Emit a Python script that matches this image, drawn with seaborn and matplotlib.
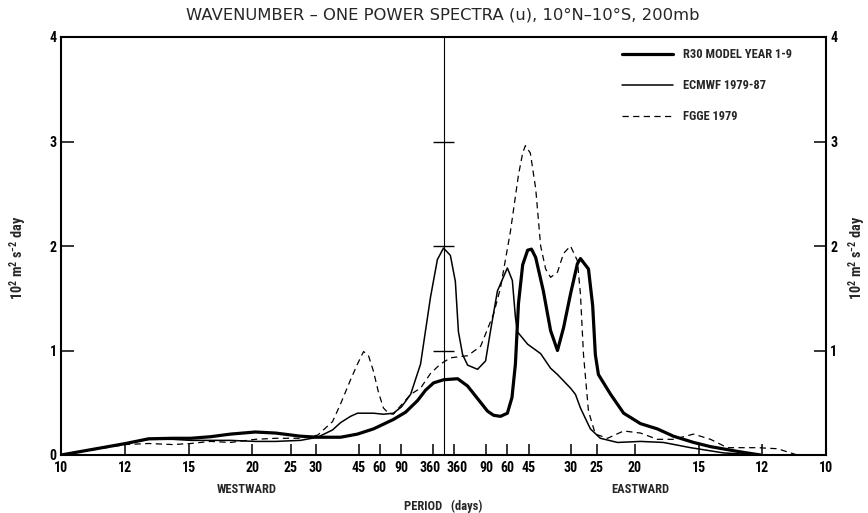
import matplotlib
matplotlib.use("Agg")
import matplotlib.pyplot as plt
import matplotlib.transforms as mtransforms
from matplotlib import font_manager
import seaborn as sns

# Period (days) labels of the frequency axis, mirrored about zero frequency
periods = [10, 12, 15, 20, 25, 30, 45, 60, 90, 360]
power_ticks = [0, 1, 2, 3, 4]

# Frequency in cycles/day (negative = westward), power in 10^2 m^2 s^-2 day
r30_freq = [-0.1, -0.0831, -0.0771, -0.0708, -0.0661, -0.0609, -0.0557, -0.0492,
            -0.0439, -0.0374, -0.0329, -0.0269, -0.0225, -0.0183, -0.0131, -0.0099,
            -0.0068, -0.0047, -0.0026, 0.0, 0.0037, 0.0063, 0.0089, 0.0115, 0.0131,
            0.0149, 0.0167, 0.0179, 0.0188, 0.0196, 0.0207, 0.0220, 0.0230, 0.0241,
            0.0261, 0.0280, 0.0298, 0.0314, 0.0332, 0.0350, 0.0358, 0.0379, 0.0390,
            0.0397, 0.0405, 0.0437, 0.0471, 0.0515, 0.0559, 0.0601, 0.0654, 0.0698,
            0.0776, 0.0829]
r30_power = [0.0, 0.11, 0.155, 0.16, 0.16, 0.175, 0.20, 0.22, 0.21, 0.18, 0.17,
             0.17, 0.20, 0.25, 0.34, 0.41, 0.52, 0.62, 0.69, 0.72, 0.73, 0.66, 0.54,
             0.42, 0.38, 0.37, 0.40, 0.55, 0.87, 1.45, 1.82, 1.96, 1.97, 1.89, 1.57,
             1.19, 1.00, 1.22, 1.54, 1.83, 1.88, 1.78, 1.43, 0.96, 0.77, 0.58, 0.40,
             0.30, 0.25, 0.18, 0.12, 0.08, 0.03, 0.0]

ecmwf_freq = [-0.1, -0.0831, -0.0771, -0.0708, -0.0661, -0.0609, -0.0557, -0.0492,
              -0.0439, -0.0374, -0.0329, -0.0290, -0.0269, -0.0243, -0.0225, -0.0183,
              -0.0157, -0.0131, -0.0110, -0.0086, -0.0060, -0.0034, -0.0016, 0.0,
              0.0018, 0.0031, 0.0039, 0.0050, 0.0063, 0.0089, 0.0110, 0.0123, 0.0141,
              0.0167, 0.0180, 0.0188, 0.0193, 0.0220, 0.0254, 0.0280, 0.0298, 0.0332,
              0.0345, 0.0358, 0.0384, 0.0410, 0.0455, 0.0515, 0.0575, 0.0646, 0.0732,
              0.0821]
ecmwf_power = [0.0, 0.11, 0.15, 0.15, 0.14, 0.14, 0.14, 0.13, 0.13, 0.14, 0.17,
               0.24, 0.31, 0.37, 0.40, 0.40, 0.39, 0.40, 0.46, 0.58, 0.87, 1.51, 1.87,
               1.98, 1.91, 1.66, 1.18, 0.96, 0.86, 0.82, 0.90, 1.19, 1.57, 1.79, 1.67,
               1.32, 1.18, 1.06, 0.97, 0.83, 0.77, 0.64, 0.58, 0.45, 0.25, 0.16, 0.12,
               0.13, 0.12, 0.07, 0.02, 0.0]

fgge_freq = [-0.1, -0.0831, -0.0771, -0.0708, -0.0661, -0.0609, -0.0557, -0.0492,
             -0.0439, -0.0374, -0.0329, -0.0290, -0.0269, -0.0243, -0.0225, -0.0209,
             -0.0196, -0.0183, -0.0170, -0.0157, -0.0144, -0.0131, -0.0110, -0.0086,
             -0.0060, -0.0034, -0.0008, 0.0018, 0.0063, 0.0097, 0.0131, 0.0149, 0.0175,
             0.0196, 0.0207, 0.0214, 0.0227, 0.0241, 0.0254, 0.0267, 0.0280, 0.0298,
             0.0314, 0.0332, 0.0350, 0.0358, 0.0366, 0.0379, 0.0397, 0.0429, 0.0471,
             0.0515, 0.0559, 0.0601, 0.0654, 0.0698, 0.0742, 0.0821, 0.0873, 0.0925,
             0.1]
fgge_power = [0.0, 0.10, 0.11, 0.10, 0.11, 0.13, 0.12, 0.15, 0.16, 0.16, 0.19, 0.32,
              0.49, 0.72, 0.87, 0.99, 0.95, 0.80, 0.60, 0.45, 0.40, 0.39, 0.48, 0.58,
              0.64, 0.78, 0.87, 0.93, 0.95, 1.04, 1.35, 1.60, 2.14, 2.68, 2.89, 2.96,
              2.89, 2.55, 2.00, 1.78, 1.70, 1.75, 1.93, 2.00, 1.86, 1.54, 0.96, 0.42,
              0.20, 0.16, 0.23, 0.21, 0.15, 0.15, 0.20, 0.15, 0.07, 0.07, 0.06, 0.0,
              0.0]

sns.set_style("white")
plt.rcParams["font.family"] = ["DejaVu Sans"]

# narrow bold face for the axis annotations, first one that is installed
installed = {f.name for f in font_manager.fontManager.ttflist}
COND = next((n for n in ["Liberation Sans Narrow", "DejaVu Sans Condensed",
                         "Roboto Condensed", "Open Sans Condensed"] if n in installed),
            "DejaVu Sans")
scale = 1.0 if COND != "DejaVu Sans" else 0.85
tick_fs = 10 * scale
small = 9 * scale
plt.rcParams["mathtext.fontset"] = "custom"
plt.rcParams["mathtext.rm"] = COND + ":bold"
plt.rcParams["mathtext.default"] = "rm"

W, H = 868, 513
fig = plt.figure(figsize=(W / 100, H / 100), dpi=100)
ax = fig.add_axes([61 / W, 1 - 455 / H, 765 / W, 418 / H])

sns.lineplot(x=r30_freq, y=r30_power, ax=ax, color="black", linewidth=2.3,
             sort=False, label="R30 MODEL YEAR 1-9")
sns.lineplot(x=ecmwf_freq, y=ecmwf_power, ax=ax, color="black", linewidth=1.1,
             sort=False, label="ECMWF 1979-87")
sns.lineplot(x=fgge_freq, y=fgge_power, ax=ax, color="black", linewidth=0.9,
             linestyle=(0, (5, 3.5)), sort=False, label="FGGE 1979")

ax.set_xlim(-0.1, 0.1)
ax.set_ylim(0, 4)

# zero-frequency divider with cross marks at each power level
ax.axvline(0, color="black", linewidth=0.8, zorder=1)
ax.hlines(power_ticks[1:4], -0.0027, 0.0027, color="black", linewidth=1.0)

xt = [-1 / p for p in periods] + [1 / p for p in periods[::-1]]
xl = [str(p) for p in periods] + [str(p) for p in periods[::-1]]
ax.set_xticks(xt)
ax.set_xticklabels(xl, fontfamily=COND, fontweight="bold", fontsize=tick_fs)
ax.tick_params(axis="x", direction="in", length=8, width=1.1, bottom=True,
               top=False, pad=4, colors="black")
# ease the two labels flanking zero frequency apart
xlabels = ax.get_xticklabels()
n = len(periods)
for lbl, dx in ((xlabels[n - 1], -3), (xlabels[n], 3)):
    lbl.set_transform(lbl.get_transform()
                      + mtransforms.ScaledTranslation(dx / 100, 0, fig.dpi_scale_trans))

ax.set_yticks(power_ticks)
ax.set_yticklabels([str(v) for v in power_ticks], fontfamily=COND,
                   fontweight="bold", fontsize=tick_fs)
ax.tick_params(axis="y", direction="in", length=9, width=1.1, left=True,
               right=True, labelleft=True, labelright=True, pad=3, colors="black")
ax.yaxis.get_major_ticks()[0].label2.set_visible(False)

for s in ax.spines.values():
    s.set_visible(True)
    s.set_color("black")
    s.set_linewidth(1.5)

leg = ax.legend(loc="upper left", bbox_to_anchor=((622 - 61) / 765, (455 - 48) / 418),
                frameon=False, handlelength=4.1, handletextpad=0.8,
                labelspacing=1.45, borderpad=0, borderaxespad=0,
                prop=dict(family=COND, weight="bold", size=small))

bt = mtransforms.blended_transform_factory(ax.transData, ax.transAxes)
lab = dict(fontfamily=COND, fontweight="bold", fontsize=small, ha="center", va="center")
ax.text(-0.0515, -0.082, "WESTWARD", transform=bt, **lab)
ax.text(0.0515, -0.082, "EASTWARD", transform=bt, **lab)
ax.text(0.0, -0.122, "PERIOD   (days)", transform=bt, **lab)

ylab = r"10$^{2}$ m$^{2}$ s$^{-2}$ day"
yl = dict(fontfamily=COND, fontweight="bold", fontsize=small + 1.2, rotation=90,
          ha="center", va="center")
fig.text(18 / W, 1 - 258 / H, ylab, **yl)
fig.text(857 / W, 1 - 258 / H, ylab, **yl)

fig.text(443 / W, 1 - 15 / H, "WAVENUMBER – ONE POWER SPECTRA (u), 10°N–10°S, 200mb",
         ha="center", va="center", fontsize=11.8)

fig.savefig("out.png", dpi=100)
